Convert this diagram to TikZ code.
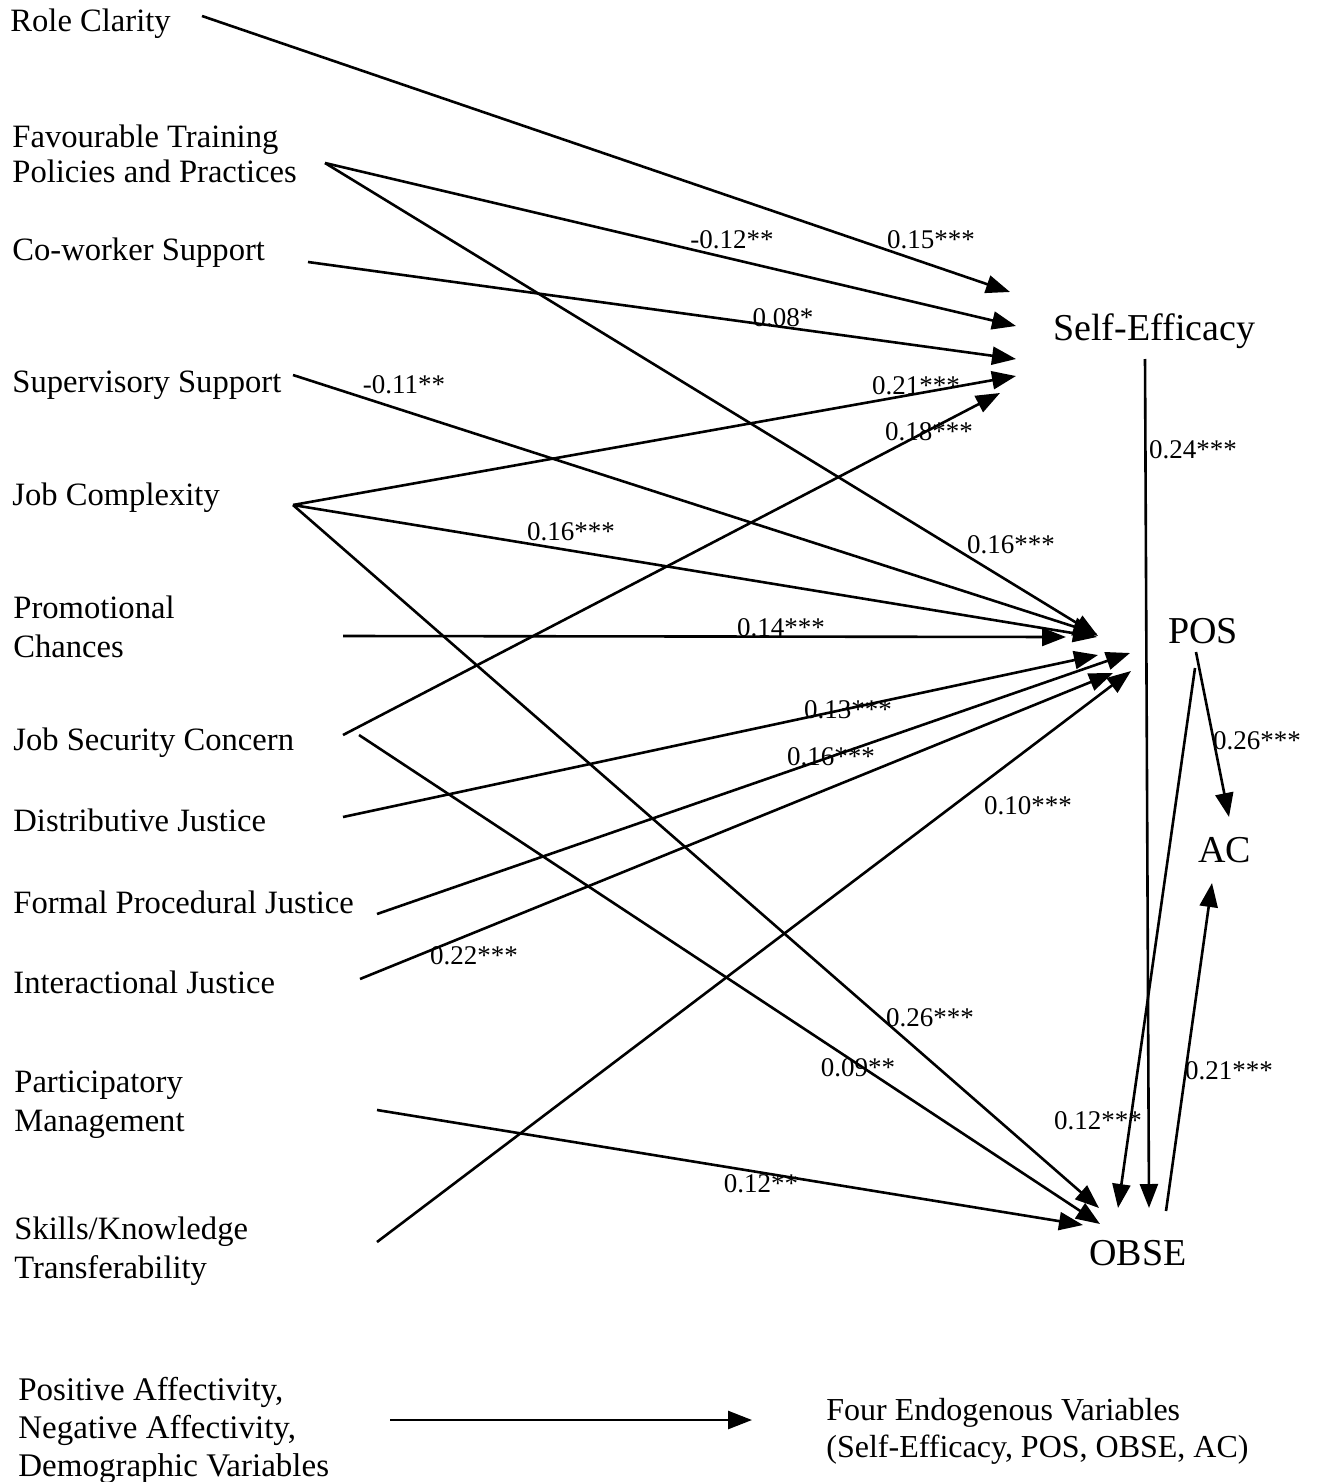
\documentclass[tikz,border=0pt]{standalone}
\usepackage{fontspec}
\setmainfont{Liberation Serif}
\usetikzlibrary{arrows.meta}
\begin{document}
\begin{tikzpicture}[x=0.5pt,y=-0.5pt,
  var/.style={anchor=base west, inner sep=0pt, align=left, font=\fontsize{16.3}{19.5}\selectfont},
  endo/.style={anchor=base west, inner sep=0pt, font=\fontsize{19}{22}\selectfont},
  coef/.style={inner sep=0pt, font=\fontsize{13.5}{16}\selectfont},
  link/.style={line width=1.3pt, -{Triangle[length=12pt,width=9pt]}},
  ]
\useasboundingbox (0,0) rectangle (1320,1482);

% exogenous variables (multi-line nodes: base = last line)
\node[var] (rc) at (10,32) {Role Clarity};
\node[var, font=\fontsize{16.3}{17.5}\selectfont] (ftpp) at (12,183) {Favourable Training\\Policies and Practices};
\node[var] (cw) at (12,261) {Co-worker Support};
\node[var] (ss) at (12,392) {Supervisory Support};
\node[var] (jc) at (12,505) {Job Complexity};
\node[var] (pc) at (13,657) {Promotional\\Chances};
\node[var] (jsc) at (13,750) {Job Security Concern};
\node[var] (dj) at (13,831) {Distributive Justice};
\node[var] (fpj) at (13,913) {Formal Procedural Justice};
\node[var] (ij) at (13,993) {Interactional Justice};
\node[var] (pm) at (14,1131) {Participatory\\Management};
\node[var] (skt) at (14,1278) {Skills/Knowledge\\Transferability};

% endogenous variables
\node[endo] (se) at (1053,340) {Self-Efficacy};
\node[endo] (pos) at (1168,643) {POS};
\node[endo] (ac) at (1198,862) {AC};
\node[endo] (obse) at (1089,1265) {OBSE};

% controls
\node[var, font=\fontsize{16.5}{19}\selectfont] (ctrl) at (18,1476) {Positive Affectivity,\\Negative Affectivity,\\Demographic Variables};
\node[var, font=\fontsize{16}{18.5}\selectfont] (four) at (826,1457) {Four Endogenous Variables\\(Self-Efficacy, POS, OBSE, AC)};

% connector end points
\coordinate (rc-o) at (202,16);
\coordinate (ftpp-o) at (325,163);
\coordinate (cw-o) at (308,262);
\coordinate (ss-o) at (293,375);
\coordinate (jc-o) at (293,505);
\coordinate (pc-o) at (343,636);
\coordinate (jsc-o1) at (343,735);
\coordinate (jsc-o2) at (359,735);
\coordinate (dj-o) at (343,817);
\coordinate (fpj-o) at (377,914);
\coordinate (ij-o) at (360,979);
\coordinate (pm-o) at (377,1110);
\coordinate (skt-o) at (377,1242);

\coordinate (se-i1) at (1010,292);
\coordinate (se-i2) at (1016,326);
\coordinate (se-i3) at (1016,359);
\coordinate (se-i4) at (1016,376);
\coordinate (se-i5) at (1000,393);
\coordinate (se-o) at (1145,359);

\coordinate (pos-i1) at (1098,636);
\coordinate (pos-i2) at (1097,634);
\coordinate (pos-i3) at (1097,637);
\coordinate (pos-i4) at (1066,637);
\coordinate (pos-i5) at (1098,655);
\coordinate (pos-i6) at (1130,653);
\coordinate (pos-i7) at (1113,673);
\coordinate (pos-i8) at (1131,671);
\coordinate (pos-o1) at (1196,652);
\coordinate (pos-o2) at (1195,668);

\coordinate (ac-i1) at (1229,817);
\coordinate (ac-i2) at (1212,883);

\coordinate (obse-i1) at (1099,1208);
\coordinate (obse-i2) at (1100,1224);
\coordinate (obse-i3) at (1083,1225);
\coordinate (obse-i4) at (1149,1208);
\coordinate (obse-i5) at (1118,1208);
\coordinate (obse-o) at (1166,1211);

\coordinate (ctrl-o) at (390,1420);
\coordinate (four-i) at (752,1420);

% connectors
\draw[link] (rc-o) -- (se-i1);
\draw[link] (ftpp-o) -- (se-i2);
\draw[link] (ftpp-o) -- (pos-i1);
\draw[link] (cw-o) -- (se-i3);
\draw[link] (ss-o) -- (pos-i2);
\draw[link] (jc-o) -- (se-i4);
\draw[link] (jc-o) -- (pos-i3);
\draw[link] (jc-o) -- (obse-i1);
\draw[link] (pc-o) -- (pos-i4);
\draw[link] (jsc-o1) -- (se-i5);
\draw[link] (jsc-o2) -- (obse-i2);
\draw[link] (dj-o) -- (pos-i5);
\draw[link] (fpj-o) -- (pos-i6);
\draw[link] (ij-o) -- (pos-i7);
\draw[link] (pm-o) -- (obse-i3);
\draw[link] (skt-o) -- (pos-i8);
\draw[link] (se-o) -- (obse-i4);
\draw[link] (pos-o1) -- (ac-i1);
\draw[link] (pos-o2) -- (obse-i5);
\draw[link] (obse-o) -- (ac-i2);
\draw[link] (ctrl-o) -- (four-i);

% coefficients
\node[coef] (c1) at (931,240) {0.15***};
\node[coef] (c2) at (732,240) {-0.12**};
\node[coef] (c3) at (783,318) {0.08*};
\node[coef] (c4) at (404,385) {-0.11**};
\node[coef] (c5) at (916,386) {0.21***};
\node[coef] (c6) at (929,432) {0.18***};
\node[coef] (c7) at (1193,450) {0.24***};
\node[coef] (c8) at (571,532) {0.16***};
\node[coef] (c9) at (1011,545) {0.16***};
\node[coef] (c10) at (781,628) {0.14***};
\node[coef] (c11) at (848,710) {0.13***};
\node[coef] (c12) at (831,757) {0.16***};
\node[coef] (c13) at (1257,741) {0.26***};
\node[coef] (c14) at (1028,806) {0.10***};
\node[coef] (c15) at (474,956) {0.22***};
\node[coef] (c16) at (930,1018) {0.26***};
\node[coef] (c17) at (858,1068) {0.09**};
\node[coef] (c18) at (1229,1071) {0.21***};
\node[coef] (c19) at (1098,1121) {0.12***};
\node[coef] (c20) at (761,1184) {0.12**};
\end{tikzpicture}
\end{document}
